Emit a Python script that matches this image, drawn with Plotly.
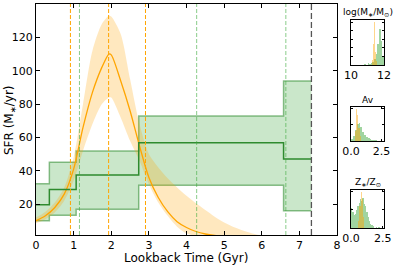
import plotly.graph_objects as go

# ---- main SFH data ----
t_grid = [0, 0.25, 0.5, 0.75, 1.0, 1.25, 1.5, 1.75, 1.94, 2.0, 2.25, 2.5, 2.75, 3.0, 3.25, 3.5,
          3.75, 4.0, 4.25, 4.5, 4.75, 5.0, 5.25, 5.5, 5.75, 6.0, 6.25, 6.5, 6.75, 7.0, 7.32]
sfr_med = [10, 13, 18, 26, 41, 66, 87, 102, 110, 109.5, 94, 76, 55, 36, 24, 15.5,
           9.5, 6, 3.6, 2.1, 1.2, 0.7, 0.4, 0.2, 0.1, 0.05, 0, 0, 0, 0, 0]
sfr_hi = [12, 15.5, 21, 30, 48, 80, 112, 128, 133, 132.5, 122, 95, 68, 50, 42, 35.5,
          30, 25, 20.5, 16.5, 12.5, 9, 6.3, 4.2, 2.4, 1.2, 0.5, 0.2, 0, 0, 0]
sfr_lo = [8.5, 11, 15, 22, 34, 52, 68, 80, 84, 84, 72, 58, 46, 32, 21, 13,
          6.5, 2.5, 0.8, 0.2, 0, 0, 0, 0, 0, 0, 0, 0, 0, 0, 0]

bin_edges = [0, 0.355, 1.067, 2.73, 6.58, 7.32]
bin_med = [19.6, 28.8, 37.4, 56.8, 47.1]
bin_hi = [32.2, 45.1, 51.9, 72.8, 93.9]
bin_lo = [10.0, 13.4, 17.0, 31.4, 16.0]

orange_vlines = [0.915, 1.93, 2.91]
green_vlines = [1.155, 4.27, 6.64]
gray_vline = 7.32

x_ticks = [0, 1, 2, 3, 4, 5, 6, 7, 8]
y_ticks = [20, 40, 60, 80, 100, 120]

# ---- histogram data ----
m_or_x = [11.30, 11.35, 11.40, 11.45, 11.50, 11.55]
m_or_y = [0.12, 0.5, 1.0, 0.7, 0.3, 0.1]
m_gr_x = [10.85, 10.95, 11.05, 11.15, 11.25, 11.35, 11.45, 11.55, 11.65, 11.75, 11.85, 11.95]
m_gr_y = [0.02, 0.01, 0.04, 0.03, 0.05, 0.08, 0.13, 0.25, 0.5, 0.85, 0.55, 0.2]

a_or_x = [0.35, 0.45, 0.55, 0.65, 0.75]
a_or_y = [0.3, 1.0, 0.8, 0.4, 0.15]
a_gr_x = [0.1, 0.25, 0.4, 0.55, 0.7, 0.85, 1.0, 1.15, 1.3, 1.45, 1.6, 1.75, 1.9, 2.05]
a_gr_y = [0.05, 0.15, 0.35, 0.52, 0.55, 0.42, 0.28, 0.18, 0.12, 0.08, 0.05, 0.04, 0.03, 0.02]

z_or_x = [0.6, 0.7, 0.8, 0.9, 1.0]
z_or_y = [0.2, 0.6, 1.0, 0.8, 0.3]
z_gr_x = [0.05, 0.15, 0.25, 0.35, 0.45, 0.55, 0.65, 0.75, 0.85, 0.95, 1.05, 1.15, 1.25,
          1.35, 1.45, 1.55, 1.65, 1.8, 2.0, 2.2]
z_gr_y = [0.55, 0.45, 0.35, 0.4, 0.5, 0.6, 0.7, 0.8, 0.75, 0.82, 0.65, 0.6, 0.45,
          0.3, 0.2, 0.12, 0.08, 0.05, 0.04, 0.02]

ORANGE = "#FFA500"
GREEN = "#2e8b2e"
FONT = "DejaVu Sans"

fig = go.Figure()

# green step band
step_x = bin_edges
lo_y = bin_lo + [bin_lo[-1]]
hi_y = bin_hi + [bin_hi[-1]]
med_y = bin_med + [bin_med[-1]]
fig.add_trace(go.Scatter(x=step_x, y=lo_y, mode="lines", line=dict(shape="hv", color="rgba(46,139,46,0.55)", width=1.5),
                         showlegend=False, hoverinfo="skip"))
fig.add_trace(go.Scatter(x=step_x, y=hi_y, mode="lines", line=dict(shape="hv", color="rgba(46,139,46,0.55)", width=1.5),
                         fill="tonexty", fillcolor="rgba(44,160,44,0.25)", showlegend=False, hoverinfo="skip"))

# orange band
fig.add_trace(go.Scatter(x=t_grid, y=sfr_lo, mode="lines", line=dict(shape="spline", smoothing=0.8, width=0, color=ORANGE),
                         showlegend=False, hoverinfo="skip"))
fig.add_trace(go.Scatter(x=t_grid, y=sfr_hi, mode="lines", line=dict(shape="spline", smoothing=0.8, width=0, color=ORANGE),
                         fill="tonexty", fillcolor="rgba(255,165,0,0.25)", showlegend=False, hoverinfo="skip"))
fig.add_trace(go.Scatter(x=t_grid, y=sfr_med, mode="lines", line=dict(shape="spline", smoothing=0.8, width=1.3, color=ORANGE),
                         showlegend=False, hoverinfo="skip"))
fig.add_trace(go.Scatter(x=step_x, y=med_y, mode="lines", line=dict(shape="hv", color=GREEN, width=1.5),
                         showlegend=False, hoverinfo="skip"))

for xv in orange_vlines:
    fig.add_shape(type="line", x0=xv, x1=xv, y0=0, y1=1, xref="x", yref="y domain",
                  line=dict(color=ORANGE, width=1, dash="4px,2px"))
for xv in green_vlines:
    fig.add_shape(type="line", x0=xv, x1=xv, y0=0, y1=1, xref="x", yref="y domain",
                  line=dict(color="rgba(60,170,60,0.6)", width=1, dash="4px,2px"))
fig.add_shape(type="line", x0=gray_vline, x1=gray_vline, y0=0, y1=1, xref="x", yref="y domain",
              line=dict(color="#555555", width=1.3, dash="6px,3px"))

# histograms
def add_hist(xs, ys, width, color, ax):
    fig.add_trace(go.Bar(x=xs, y=ys, width=width, marker=dict(color=color, line=dict(width=0)),
                         xaxis="x" + ax, yaxis="y" + ax, showlegend=False, hoverinfo="skip"))

add_hist(m_gr_x, m_gr_y, 0.1, "rgba(44,160,44,0.45)", "2")
add_hist(m_or_x, m_or_y, 0.05, "rgba(255,165,0,0.45)", "2")
add_hist(a_gr_x, a_gr_y, 0.15, "rgba(44,160,44,0.45)", "3")
add_hist(a_or_x, a_or_y, 0.1, "rgba(255,165,0,0.45)", "3")
add_hist(z_gr_x, z_gr_y, 0.1, "rgba(44,160,44,0.45)", "4")
add_hist(z_or_x, z_or_y, 0.1, "rgba(255,165,0,0.45)", "4")

W, H = 399, 268
def px_x(p):
    return p / W
def px_y(p):
    return 1 - p / H

axis_common = dict(showline=True, linecolor="black", linewidth=1, mirror="allticks", ticks="inside",
                   tickcolor="black", showgrid=False, zeroline=False, automargin=False,
                   tickfont=dict(family=FONT, size=11, color="black"))

hx = [px_x(351), px_x(384)]
fig.update_layout(
    template="none",
    width=W, height=H, margin=dict(l=0, r=0, t=0, b=0, pad=0),
    paper_bgcolor="white", plot_bgcolor="white", barmode="overlay", bargap=0,
    xaxis=dict(domain=[px_x(36), px_x(337)], range=[0, 8], tickvals=x_ticks, ticklen=4, **axis_common),
    yaxis=dict(domain=[px_y(235), px_y(4)], range=[1.5, 140], tickvals=y_ticks, ticklen=4, **axis_common),
    xaxis2=dict(domain=hx, anchor="y2", range=[10, 12], tickvals=[10, 12], ticklen=2, **axis_common),
    yaxis2=dict(domain=[px_y(65), px_y(20)], anchor="x2", range=[0, 1.05], showticklabels=False, ticklen=2,
                tickvals=[0.2, 0.4, 0.6, 0.8, 1.0], **axis_common),
    xaxis3=dict(domain=hx, anchor="y3", range=[0, 2.7], tickvals=[0, 2.5], ticktext=["0.0", "2.5"], ticklen=2, **axis_common),
    yaxis3=dict(domain=[px_y(141), px_y(107)], anchor="x3", range=[0, 1.05], showticklabels=False, ticklen=2,
                tickvals=[0.5, 1.0], **axis_common),
    xaxis4=dict(domain=hx, anchor="y4", range=[0, 2.6], tickvals=[0, 2.5], ticktext=["0.0", "2.5"], ticklen=2, **axis_common),
    yaxis4=dict(domain=[px_y(228), px_y(190)], anchor="x4", range=[0, 1.05], showticklabels=False, ticklen=2,
                tickvals=[0.5, 1.0], **axis_common),
)

fig.add_annotation(text="SFR (M<sub>∗</sub>/yr)", x=px_x(10), y=px_y(120), xref="paper", yref="paper",
                   textangle=-90, showarrow=False, font=dict(family=FONT, size=12, color="black"),
                   xanchor="center", yanchor="middle")
fig.add_annotation(text="Lookback Time (Gyr)", x=px_x(186), y=px_y(258), xref="paper", yref="paper",
                   showarrow=False, font=dict(family=FONT, size=12, color="black"), xanchor="center", yanchor="middle")
titles = [("log(M<sub>∗</sub>/M<sub>⊙</sub>)", 12), ("Av", 100), ("Z<sub>∗</sub>/Z<sub>⊙</sub>", 182)]
for txt, yy in titles:
    fig.add_annotation(text=txt, x=px_x(367.5), y=px_y(yy), xref="paper", yref="paper", showarrow=False,
                       font=dict(family=FONT, size=9, color="black"), xanchor="center", yanchor="middle")

fig.write_html("out.html", config={"displayModeBar": False, "staticPlot": True},
               post_script="document.body.style.margin='0';document.body.style.overflow='hidden';")
